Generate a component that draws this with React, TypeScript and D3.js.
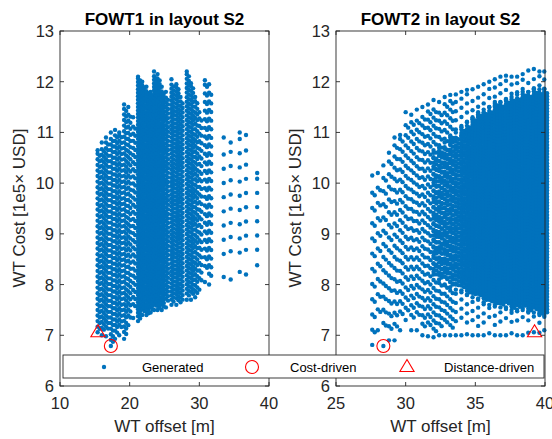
import React from 'react';
import * as d3 from 'd3';

const W = 552;
const H = 439;
const BLUE = '#0072BD';
const RED = '#FF0000';
const AX = '#262626';
const FONT = '"Liberation Sans", Arial, Helvetica, sans-serif';

// ---- FOWT1 (left) : columns of generated designs (offset m, cost top, cost bottom, spacing)
const leftColX = [15.4, 16.0, 16.6, 17.3, 17.9, 18.5, 19.2, 19.8, 20.5, 21.2, 21.8, 22.4, 23.0, 23.5, 24.0, 24.6, 25.2, 26.0, 26.7, 27.3, 28.2, 28.8, 29.4, 30.0, 30.8, 31.4, 33.5, 34.5, 35.8, 36.7, 38.3];
const leftColTop = [10.65, 10.8, 10.9, 11.0, 11.05, 11.0, 11.55, 11.5, 11.3, 12.1, 12.0, 11.9, 11.8, 12.2, 12.15, 11.9, 11.8, 12.05, 11.95, 11.7, 12.2, 11.97, 11.7, 11.4, 12.03, 11.95, 10.9, 10.8, 11.0, 10.95, 10.2];
const leftColBottom = [7.06, 7.0, 6.98, 6.79, 6.93, 7.0, 6.93, 7.2, 7.34, 7.28, 7.4, 7.4, 7.45, 7.5, 7.5, 7.5, 7.55, 7.6, 7.6, 7.65, 7.7, 7.7, 7.75, 7.9, 8.05, 8.0, 8.15, 8.1, 8.25, 8.2, 8.38];
const leftColStep = [0.11, 0.11, 0.11, 0.11, 0.11, 0.11, 0.11, 0.12, 0.14, 0.07, 0.07, 0.07, 0.07, 0.07, 0.07, 0.07, 0.09, 0.08, 0.08, 0.09, 0.09, 0.09, 0.11, 0.15, 0.17, 0.17, 0.28, 0.28, 0.28, 0.28, 0.28];
const leftPaired = [1, 1, 1, 1, 1, 1, 1, 1, 1, 1, 1, 1, 1, 1, 1, 1, 1, 1, 1, 1, 1, 1, 1, 1, 1, 1, 0, 0, 0, 0, 0];

// ---- FOWT2 (right) : sparse layer
const rightColX = [27.6, 28.0, 28.4, 28.8, 29.2, 29.6, 30.0, 30.4, 30.8, 31.2, 31.6, 32.0, 32.4, 32.8, 33.2, 33.6, 34.0, 34.4, 34.8, 35.2, 35.6, 36.0, 36.4, 36.8, 37.2, 37.6, 38.0, 38.4, 38.8, 39.2, 39.6, 39.95];
const rightColTop = [10.15, 10.2, 10.35, 10.6, 10.9, 10.95, 11.4, 11.35, 11.45, 11.5, 11.55, 11.64, 11.6, 11.7, 11.74, 11.75, 11.8, 11.84, 11.85, 11.9, 11.95, 12.0, 12.05, 12.1, 12.12, 12.1, 12.1, 12.15, 12.22, 12.25, 12.2, 12.2];
const rightColBottom = [6.81, 7.1, 6.79, 6.9, 6.9, 7.1, 7.3, 7.1, 7.1, 7.0, 6.98, 6.96, 7.0, 7.0, 7.0, 7.0, 7.0, 7.02, 7.0, 7.0, 7.0, 7.04, 7.0, 7.0, 7.0, 7.04, 7.0, 7.0, 7.05, 7.06, 7.05, 7.1];
const rightColStep = [0.3, 0.3, 0.26, 0.25, 0.22, 0.2, 0.2, 0.19, 0.18, 0.17, 0.16, 0.16, 0.16, 0.17, 0.17, 0.18, 0.18, 0.18, 0.18, 0.18, 0.18, 0.18, 0.18, 0.18, 0.18, 0.18, 0.18, 0.18, 0.18, 0.18, 0.18, 0.18];
const rightPaired = [1, 1, 1, 1, 1, 1, 1, 1, 1, 1, 1, 1, 1, 1, 1, 0, 0, 0, 0, 0, 0, 0, 0, 0, 0, 0, 0, 0, 0, 0, 0, 0];

// ---- FOWT2 (right) : dense core
const denseX = [32.0, 32.4, 32.8, 33.2, 33.6, 34.0, 34.4, 34.8, 35.2, 35.6, 36.0, 36.4, 36.8, 37.2, 37.6, 38.0, 38.4, 38.8, 39.2, 39.6, 39.95];
const denseTop = [10.6, 10.7, 10.8, 10.9, 11.0, 11.1, 11.2, 11.3, 11.4, 11.45, 11.5, 11.6, 11.6, 11.65, 11.7, 11.75, 11.8, 11.8, 11.85, 11.85, 11.85];
const denseBottom = [8.2, 8.1, 8.0, 7.95, 7.9, 7.85, 7.8, 7.75, 7.7, 7.65, 7.6, 7.6, 7.55, 7.55, 7.5, 7.5, 7.5, 7.45, 7.45, 7.4, 7.4];
const denseStep = [0.11, 0.1, 0.09, 0.09, 0.08, 0.07, 0.065, 0.06, 0.06, 0.06, 0.06, 0.06, 0.06, 0.06, 0.06, 0.06, 0.06, 0.06, 0.06, 0.06, 0.06];

// ---- selected designs
const costDriven = [{ x: 17.3, y: 6.79 }, { x: 28.4, y: 6.79 }];
const distDriven = [{ x: 15.45, y: 7.06 }, { x: 39.25, y: 7.06 }];

const yTicks = [6, 7, 8, 9, 10, 11, 12, 13];
const leftXTicks = [10, 20, 30, 40];
const rightXTicks = [25, 30, 35, 40];
const titles = ['FOWT1 in layout S2', 'FOWT2 in layout S2'];
const legendLabels = ['Generated', 'Cost-driven', 'Distance-driven'];

function columns(xs: number[], tops: number[], bottoms: number[], steps: number[], paired: number[] | null, dx: number, dy: number) {
  const pts: [number, number][] = [];
  xs.forEach((x, i) => {
    const s = steps[i];
    const ph = ((i * 0.37) % 1) * s;
    const col: number[] = [bottoms[i]];
    for (let y = bottoms[i] + ph + s; y < tops[i] - s * 0.4; y += s) col.push(y);
    col.push(tops[i]);
    col.forEach((y, k) => {
      pts.push([x, y]);
      const pr = paired ? paired[i] : 1;
      if (pr && k > 0 && k < col.length - 1) pts.push([x + dx, y - dy]);
    });
  });
  return pts;
}

const yScale = d3.scaleLinear().domain([6, 13]).range([386, 31]);

function Panel({ x0, x1, domain, ticks, pts, title, idx }: any) {
  const xs = d3.scaleLinear().domain(domain).range([x0, x1]);
  const ys = yScale;
  const tl = 4;
  const cx = (x0 + x1) / 2;
  const px = xs(distDriven[idx].x);
  const py = ys(distDriven[idx].y);
  const s = 7.5;
  return (
    <g>
      <rect x={x0} y={31} width={x1 - x0} height={355} fill="white" />
      <g fill={BLUE}>
        {pts.map((p: [number, number], i: number) => (
          <circle key={i} cx={xs(p[0])} cy={ys(p[1])} r={2.2} />
        ))}
      </g>
      <g fill="none" stroke={RED} strokeWidth={1.1}>
        <circle cx={xs(costDriven[idx].x)} cy={ys(costDriven[idx].y)} r={6.5} />
        <path d={`M${px},${py - s} L${px + s * 0.95},${py + s * 0.6} L${px - s * 0.95},${py + s * 0.6} Z`} />
      </g>
      <g stroke={AX} strokeWidth={0.9} fill="none">
        <rect x={x0} y={31} width={x1 - x0} height={355} />
        {yTicks.map((t) => (
          <g key={'y' + t}>
            <line x1={x0} x2={x0 + tl} y1={ys(t)} y2={ys(t)} />
            <line x1={x1} x2={x1 - tl} y1={ys(t)} y2={ys(t)} />
          </g>
        ))}
        {ticks.map((t: number) => (
          <g key={'x' + t}>
            <line x1={xs(t)} x2={xs(t)} y1={386} y2={386 - tl} />
            <line x1={xs(t)} x2={xs(t)} y1={31} y2={31 + tl} />
          </g>
        ))}
      </g>
      <g fontFamily={FONT} fontSize={16.5} fill={AX}>
        {yTicks.map((t) => (
          <text key={'yl' + t} x={x0 - 6} y={ys(t)} dy="0.36em" textAnchor="end">{t}</text>
        ))}
        {ticks.map((t: number) => (
          <text key={'xl' + t} x={xs(t)} y={409} textAnchor="middle">{t}</text>
        ))}
      </g>
      <text x={cx} y={25} textAnchor="middle" fontFamily={FONT} fontWeight="bold" fontSize={17} fill="#000">{title}</text>
      <text x={cx} y={432} textAnchor="middle" fontFamily={FONT} fontSize={17} fill={AX}>WT offset [m]</text>
      <text transform={`translate(${x0 - 35},208) rotate(-90)`} textAnchor="middle" fontFamily={FONT} fontSize={17} fill={AX}>WT Cost [1e5× USD]</text>
    </g>
  );
}

export default function App() {
  const leftPts = columns(leftColX, leftColTop, leftColBottom, leftColStep, leftPaired, 0.3, 0.04);
  const rightPts = [
    ...columns(rightColX, rightColTop, rightColBottom, rightColStep, rightPaired, 0.18, 0.05),
    ...columns(denseX, denseTop, denseBottom, denseStep, null, 0.2, 0.03),
  ];
  return (
    <svg width={W} height={H} style={{ position: 'absolute', left: 0, top: 0, background: 'white' }}>
      <rect width={W} height={H} fill="white" />
      <Panel x0={60} x1={269} domain={[10, 40]} ticks={leftXTicks} pts={leftPts} title={titles[0]} idx={0} />
      <Panel x0={336} x1={545} domain={[25, 40]} ticks={rightXTicks} pts={rightPts} title={titles[1]} idx={1} />
      <g>
        <rect x={63} y={355} width={481} height={23} fill="white" stroke={AX} strokeWidth={0.9} />
        <circle cx={104} cy={367} r={2.2} fill={BLUE} />
        <circle cx={252} cy={367} r={6.5} fill="none" stroke={RED} strokeWidth={1.1} />
        <path d={`M407,${367 - 7.5} L${407 + 7.1},${367 + 4.5} L${407 - 7.1},${367 + 4.5} Z`} fill="none" stroke={RED} strokeWidth={1.1} />
        <g fontFamily={FONT} fontSize={13} fill="#000">
          <text x={142} y={371.5}>{legendLabels[0]}</text>
          <text x={290} y={371.5}>{legendLabels[1]}</text>
          <text x={444} y={371.5}>{legendLabels[2]}</text>
        </g>
      </g>
    </svg>
  );
}
